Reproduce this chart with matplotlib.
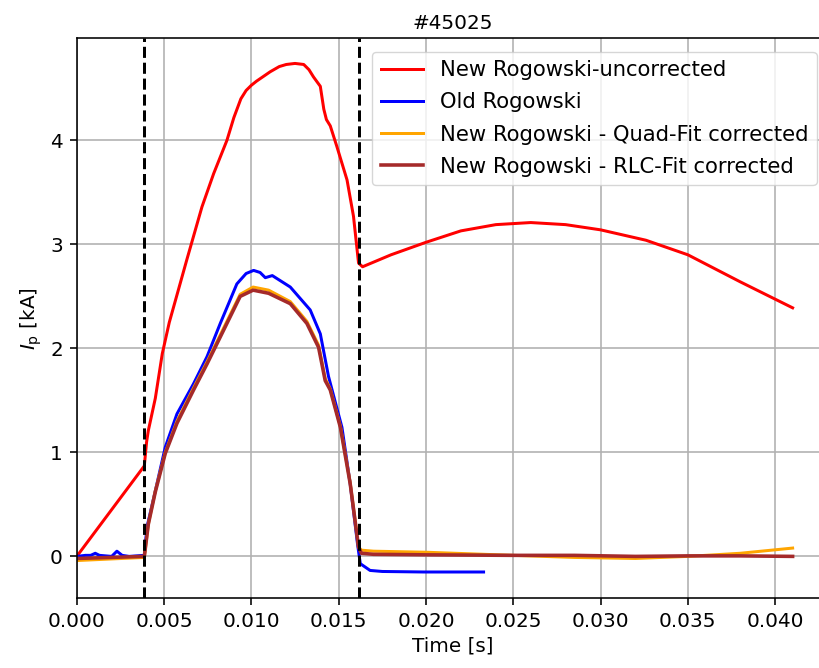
#plasma current comparison of rogowski coils, shot #45025

import matplotlib
matplotlib.use('Agg')
import matplotlib.pyplot as plt

shot = '#45025'

#new rogowski raw signal [s], [kA]
t_red = [0, 0.00387, 0.0040, 0.0041, 0.0045, 0.0049, 0.0053, 0.0058, 0.0063, 0.00717, 0.00784, 0.0086,
		0.0090, 0.0094, 0.0097, 0.0100, 0.0103, 0.01108, 0.0116, 0.0120, 0.0125, 0.0130, 0.0133,
		0.01356, 0.01395, 0.01415, 0.01430, 0.01452, 0.0149, 0.01548, 0.01585, 0.01614, 0.01637,
		0.018, 0.020, 0.022, 0.024, 0.026, 0.028, 0.030, 0.0326, 0.035, 0.038, 0.041]
i_red = [0, 0.87, 1.10, 1.21, 1.52, 1.95, 2.25, 2.55, 2.85, 3.36, 3.68, 4.00,
		4.22, 4.40, 4.48, 4.53, 4.57, 4.66, 4.71, 4.73, 4.74, 4.73, 4.68,
		4.61, 4.52, 4.30, 4.20, 4.14, 3.94, 3.62, 3.27, 2.82, 2.785,
		2.90, 3.02, 3.13, 3.19, 3.21, 3.19, 3.14, 3.04, 2.90, 2.64, 2.39]

#old rogowski
t_blue = [0, 0.0005, 0.0008, 0.00106, 0.0013, 0.0020, 0.0023, 0.0026, 0.0030, 0.00387, 0.00402,
		0.0045, 0.00507, 0.00574, 0.00669, 0.00746, 0.00822, 0.00917, 0.0097, 0.01013, 0.0105,
		0.0108, 0.0112, 0.01223, 0.01337, 0.01395, 0.01442, 0.01519, 0.01566, 0.01608, 0.01624,
		0.0168, 0.0175, 0.01986, 0.0233]
i_blue = [0.0, 0.01, 0.01, 0.03, 0.01, 0.0, 0.05, 0.01, 0.0, 0.01, 0.28,
		0.63, 1.05, 1.37, 1.66, 1.92, 2.24, 2.62, 2.72, 2.75, 2.73,
		2.68, 2.70, 2.59, 2.37, 2.14, 1.73, 1.24, 0.70, 0.12, -0.07,
		-0.135, -0.145, -0.15, -0.15]

#corrected signals (quadratic fit and RLC fit drift removal)
t_fit = [0, 0.00387, 0.0041, 0.0045, 0.00507, 0.00574, 0.00669, 0.00746, 0.00822, 0.00936, 0.0101,
		0.01099, 0.01223, 0.01318, 0.01385, 0.01423, 0.01452, 0.0151, 0.01566, 0.01614, 0.0163,
		0.017, 0.020, 0.025, 0.0285, 0.032, 0.035, 0.038, 0.041]
i_quad = [-0.04, -0.01, 0.31, 0.63, 1.00, 1.30, 1.62, 1.87, 2.13, 2.52, 2.59,
		2.56, 2.45, 2.26, 2.03, 1.71, 1.61, 1.25, 0.71, 0.09, 0.06,
		0.05, 0.04, 0.01, -0.01, -0.02, 0.0, 0.03, 0.08]
i_rlc = [-0.02, 0.0, 0.31, 0.62, 0.99, 1.28, 1.60, 1.85, 2.11, 2.50, 2.56,
		2.53, 2.43, 2.24, 2.01, 1.69, 1.60, 1.24, 0.70, 0.09, 0.03,
		0.02, 0.015, 0.01, 0.01, 0.0, 0.005, 0.005, 0.0]

#plasma start / end
t_start = 0.00387
t_end = 0.01618

labels = ['New Rogowski-uncorrected', 'Old Rogowski',
		'New Rogowski - Quad-Fit corrected', 'New Rogowski - RLC-Fit corrected']

#everything scaled up ~1.44 like a hi-dpi render
plt.rcParams['font.size'] = 14.4
plt.rcParams['axes.linewidth'] = 1.15
plt.rcParams['grid.linewidth'] = 1.15
plt.rcParams['xtick.major.size'] = 5
plt.rcParams['ytick.major.size'] = 5
plt.rcParams['xtick.major.width'] = 1.15
plt.rcParams['ytick.major.width'] = 1.15
plt.rcParams['xtick.major.pad'] = 5
plt.rcParams['ytick.major.pad'] = 5

lw = 2.16
fig = plt.figure(figsize=(8.19, 6.68), dpi=100)
#axes deliberately runs past the right edge (original image was cropped)
ax = fig.add_axes([0.0937, 0.1048, 0.9178, 0.8376])

ax.plot(t_red, i_red, color='red', lw=lw, label=labels[0])
ax.plot(t_blue, i_blue, color='blue', lw=lw, label=labels[1])
ax.plot(t_fit, i_quad, color='orange', lw=lw, label=labels[2])
ax.plot(t_fit, i_rlc, color='brown', lw=lw + 0.4, label=labels[3])
ax.axvline(t_start, color='k', ls='--', lw=lw)
ax.axvline(t_end, color='k', ls='--', lw=lw)

ax.set_xlim(0, 0.04305)
ax.set_ylim(-0.40, 4.98)
ax.grid(True)
ax.set_title(shot, pad=7, fontsize=14.4)
ax.set_xlabel('Time [s]')
ax.set_ylabel(r'$I_\mathrm{p}$ [kA]')
ax.legend(loc='upper right', bbox_to_anchor=(816.7/819, (668-51.7)/668),
		bbox_transform=fig.transFigure, borderaxespad=0, fontsize=15.2, labelspacing=0.58)

fig.savefig('out.png', dpi=100)
